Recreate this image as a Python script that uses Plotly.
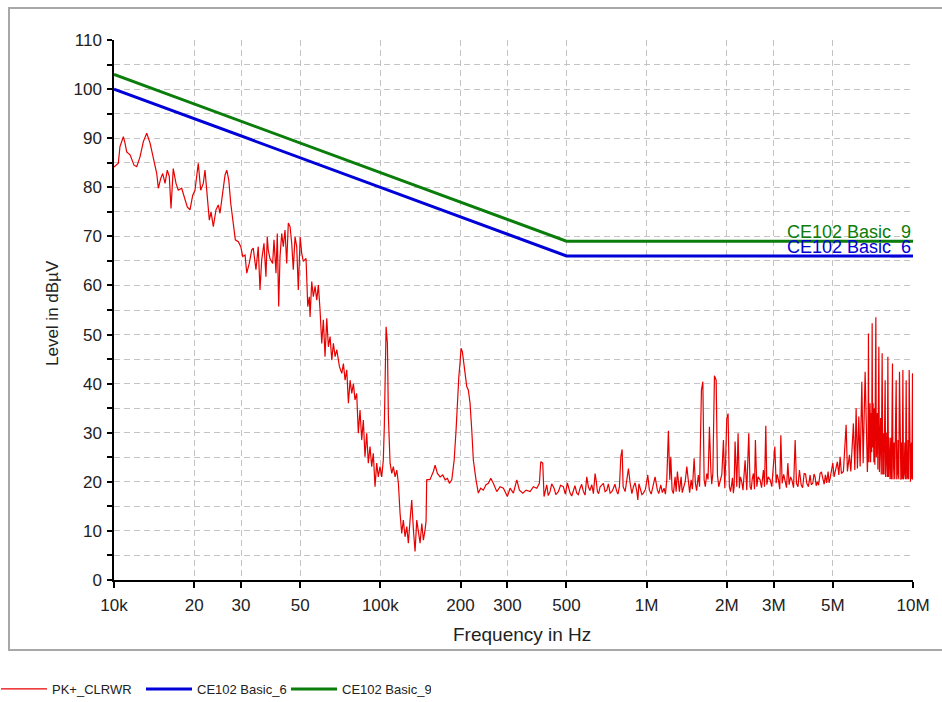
import numpy as np
import plotly.graph_objects as go

# ---------------------------------------------------------------------------
# Measured peak spectrum (frequency in kHz, level in dBµV), split by band
# ---------------------------------------------------------------------------
band_10k_40k = [
    (10.0, 84.1), (10.38, 84.9), (10.53, 88.3), (10.84, 90.3), (11.0, 89.0),
    (11.16, 87.2), (11.49, 86.6), (11.89, 84.5), (12.17, 84.2), (12.52, 86.2),
    (12.89, 89.3), (13.27, 91.0), (13.66, 89.0), (14.05, 86.2), (14.47, 82.8),
    (14.67, 79.8), (14.98, 81.8), (15.24, 82.8), (15.55, 80.8), (15.85, 83.5),
    (16.13, 82.2), (16.37, 75.7), (16.69, 83.8), (17.09, 80.8), (17.43, 79.4),
    (17.95, 79.8), (18.47, 77.7), (18.84, 76.0), (19.29, 75.4), (19.75, 78.4),
    (20.14, 79.4), (20.72, 84.9), (21.16, 79.4), (21.64, 80.8), (21.96, 83.5),
    (22.40, 78.1), (22.80, 73.3), (23.14, 75.0), (23.60, 72.0), (24.15, 75.4),
    (24.64, 76.4), (25.0, 74.7), (25.60, 79.4), (26.12, 82.5), (26.51, 83.5),
    (26.97, 81.5), (27.44, 76.7), (28.06, 72.7), (28.55, 69.3), (29.30, 68.9),
    (29.92, 67.9), (30.44, 65.9), (31.05, 66.2), (31.51, 62.5), (32.20, 64.5),
    (32.88, 67.2), (33.33, 67.6), (34.12, 63.2), (34.80, 67.9), (35.33, 59.1),
    (35.85, 65.2), (36.57, 68.6), (37.20, 61.8), (37.62, 69.9),
]

band_40k_150k = [
    (37.95, 67.2), (38.51, 65.5), (39.42, 64.5), (39.88, 69.3), (40.57, 62.5),
    (41.03, 70.6), (41.53, 55.7), (42.01, 65.9), (42.63, 70.6), (43.22, 67.9),
    (43.86, 71.3), (44.51, 64.5), (45.13, 72.7), (45.81, 72.0), (46.48, 68.6),
    (47.12, 63.2), (47.83, 69.9), (48.53, 67.9), (49.21, 59.1), (50.0, 69.9),
    (50.69, 66.5), (51.39, 64.9), (52.61, 65.5), (53.39, 55.7), (54.13, 57.7),
    (54.47, 53.6), (55.26, 60.8), (56.04, 57.7), (56.87, 59.8), (57.72, 57.0),
    (58.52, 60.1), (59.38, 55.0), (60.26, 48.2), (61.10, 53.0), (62.00, 45.5),
    (62.93, 53.3), (63.81, 47.5), (64.76, 49.6), (65.72, 44.8), (66.64, 48.2),
    (67.62, 45.5), (68.63, 46.9), (70.19, 43.5), (71.66, 42.1), (72.67, 44.1),
    (73.73, 40.7), (74.82, 42.8), (75.87, 36.0), (76.99, 40.7), (78.12, 38.0),
    (79.22, 40.0), (80.33, 36.7), (81.52, 38.0), (82.66, 29.9), (83.89, 34.6),
    (85.13, 28.5), (86.32, 32.6), (87.58, 25.1), (88.89, 29.9), (90.13, 23.8),
    (91.47, 27.2), (92.81, 23.1), (94.10, 25.8), (95.51, 19.0), (96.92, 23.8),
    (98.25, 21.0), (99.7, 23.1), (101.2, 21.0), (102.6, 24.4), (103.5, 31.2),
    (104.2, 44.8), (105.1, 51.6), (106.3, 48.2), (107.2, 33.3), (108.8, 23.8),
    (110.4, 21.7), (111.9, 23.1), (113.6, 21.0), (115.3, 22.4), (116.9, 19.7),
    (118.6, 13.6), (120.3, 9.5), (122.0, 12.2), (123.8, 8.8), (125.7, 10.9),
    (127.4, 7.5), (129.3, 12.2), (131.2, 16.3), (133.1, 10.2), (135.0, 5.8),
    (137.0, 12.2), (138.9, 9.5), (141.0, 7.5), (143.1, 11.5), (145.1, 8.1),
    (147.2, 10.2), (148.5, 12.0), (149.3, 20.4),
]

band_150k_700k = [
    (153.7, 20.5), (158.2, 22.1), (160.6, 23.4), (163.8, 21.7), (167.7, 21.0),
    (171.6, 21.4), (175.1, 20.4), (178.6, 20.7), (181.7, 19.7), (185.5, 20.4),
    (189.3, 24.4), (192.5, 30.6), (194.7, 37.0), (197.1, 41.4), (199.1, 44.1),
    (200.9, 47.2), (203.2, 46.5), (204.9, 44.8), (208.0, 41.4), (211.1, 39.4),
    (214.0, 38.7), (217.2, 36.0), (220.4, 30.6), (223.5, 24.4), (228.7, 20.4),
    (233.3, 17.7), (238.2, 18.7), (243.6, 18.3), (249.4, 19.4), (254.5, 19.7),
    (259.8, 20.7), (265.7, 19.7), (273.7, 18.0), (281.6, 19.0), (289.8, 18.7),
    (299.9, 17.0), (307.0, 18.7), (315.9, 17.7), (325.4, 20.4), (332.8, 18.3),
    (342.7, 17.7), (352.6, 18.3), (365.1, 18.0), (375.6, 19.0), (386.8, 18.7),
    (395.6, 19.7), (400.2, 24.1), (407.2, 23.8), (411.8, 17.0), (416.0, 18.2),
    (421.5, 19.4), (427.0, 17.2), (433.7, 18.0), (440.0, 19.6), (449.0, 18.7),
    (456.0, 17.4), (466.0, 18.0), (475.0, 19.3), (486.6, 19.0), (495.0, 17.5),
    (503.8, 19.8), (509.0, 18.9), (515.7, 17.7), (523.0, 17.1), (530.7, 18.3),
    (538.0, 19.2), (546.5, 17.7), (554.0, 17.4), (562.4, 18.7), (570.0, 19.5),
    (578.7, 18.0), (587.0, 17.3), (595.9, 21.0), (604.2, 19.0), (612.0, 18.2),
    (622.3, 19.4), (631.0, 17.6), (640.3, 21.7), (646.0, 20.3), (653.2, 18.0),
    (660.0, 17.6), (668.7, 19.0),
]

band_700k_3m = [
    (688.0, 19.7), (698.0, 18.0), (708.6, 18.3), (718.0, 19.6), (729.2, 17.7),
    (740.0, 18.0), (750.2, 18.7), (760.0, 19.5), (772.6, 18.0), (780.0, 17.5),
    (790.2, 19.0), (799.8, 25.1), (808.8, 26.6), (815.9, 19.0), (830.1, 18.0),
    (840.0, 19.8), (854.2, 22.7), (866.9, 19.7), (880.0, 17.6), (892.0, 19.0),
    (905.0, 19.8), (918.6, 18.0), (926.5, 16.3), (935.0, 19.6), (945.1, 18.7),
    (960.0, 17.4), (972.5, 17.7), (990.0, 18.5), (1009.6, 21.4), (1023.7, 18.3),
    (1040.0, 17.5), (1054.2, 19.0), (1075.4, 21.0), (1097.0, 18.3), (1110.0, 17.6),
    (1129.7, 19.4), (1145.0, 17.8), (1162.5, 18.7), (1176.0, 17.5), (1189.9, 20.4),
    (1206.6, 30.4), (1221.2, 20.4), (1231.8, 25.1), (1245.8, 18.3), (1260.0, 17.6),
    (1278.7, 21.0), (1290.0, 18.0), (1304.3, 22.1), (1315.0, 19.8), (1327.1, 18.0),
    (1346.8, 21.0), (1360.0, 17.8), (1374.0, 18.7), (1395.0, 20.0), (1415.0, 23.1),
    (1434.8, 19.0), (1450.0, 17.8), (1468.5, 20.4), (1485.0, 18.5), (1507.2, 24.8),
    (1524.0, 19.7), (1540.0, 18.2), (1563.0, 21.4), (1580.0, 19.0), (1605.7, 38.7),
    (1625.2, 40.4), (1643.6, 20.4), (1660.0, 19.0), (1682.4, 21.7), (1700.0, 20.5),
    (1720.7, 31.2), (1741.5, 22.4), (1755.0, 19.5), (1772.1, 21.7), (1796.8, 41.6),
    (1823.6, 40.7), (1844.2, 21.4), (1865.0, 19.0), (1887.5, 20.4), (1915.0, 21.5),
    (1942.1, 28.5), (1965.6, 18.7), (1998.8, 32.9), (2021.4, 33.9), (2044.2, 19.0),
    (2065.0, 18.0), (2087.1, 19.7), (2100.0, 20.8), (2116.2, 17.7), (2130.0, 19.0),
    (2147.5, 28.2), (2179.4, 19.0), (2204.0, 29.9), (2229.1, 18.7), (2250.0, 21.0),
    (2275.9, 20.0), (2300.0, 18.3), (2341.7, 24.4), (2376.2, 18.3), (2417.5, 29.9),
    (2445.0, 19.0), (2470.0, 18.4), (2490.0, 20.5), (2516.3, 21.7), (2540.0, 18.5),
    (2560.1, 28.5), (2591.5, 19.0), (2620.0, 21.0), (2666.4, 20.4), (2700.0, 18.8),
    (2743.7, 22.4), (2770.0, 19.0), (2801.3, 31.4), (2825.9, 19.4), (2860.0, 21.0),
    (2907.8, 20.4),
]

band_3m_10m = [
    (2950.5, 19.0), (3028.4, 27.2), (3062.8, 19.7), (3090.0, 21.5), (3124.2, 20.4),
    (3160.0, 18.5), (3189.8, 29.5), (3225.9, 19.7), (3270.0, 21.5), (3310.9, 20.0),
    (3350.0, 18.8), (3389.0, 23.8), (3427.3, 19.4), (3470.0, 21.0), (3508.3, 20.4),
    (3560.0, 18.8), (3610.4, 28.5), (3651.2, 19.7), (3700.0, 19.0), (3746.4, 22.4),
    (3802.3, 19.4), (3850.0, 18.8), (3902.3, 21.7), (3950.0, 21.6), (3991.5, 19.7),
    (4050.0, 19.0), (4107.3, 21.4), (4150.0, 19.4), (4204.4, 19.7), (4250.0, 21.6),
    (4288.8, 21.0), (4330.0, 19.2), (4374.4, 20.0), (4420.0, 19.3), (4478.7, 21.7),
    (4530.0, 22.0), (4584.6, 20.4), (4640.0, 19.5), (4688.2, 21.4), (4740.0, 19.8),
    (4799.2, 22.1), (4840.0, 19.8), (4882.8, 20.7), (4940.0, 22.5), (4998.8, 23.8),
    (5055.5, 21.0), (5201.9, 24.1), (5265.5, 21.4), (5325.1, 25.1), (5385.3, 21.7),
    (5479.0, 22.1), (5608.8, 31.6), (5671.9, 22.1), (5771.7, 25.5), (5841.4, 22.1),
    (5973.7, 31.9), (6047.3, 22.4), (6115.5, 35.0), (6184.7, 22.7), (6259.4, 33.3),
    (6331.5, 23.1), (6425.0, 40.4), (6498.2, 23.8), (6611.2, 42.4), (6686.3, 25.1),
    (6740.0, 22.0), (6780.0, 27.0), (6803.0, 50.2), (6830.0, 24.0), (6862.3, 29.9),
    (6900.0, 36.0), (6930.0, 24.0), (6970.0, 34.0), (7000.0, 26.0), (7024.5, 52.3),
    (7050.0, 27.0), (7080.0, 36.0), (7103.9, 31.9), (7130.0, 24.0), (7160.0, 35.0),
    (7190.0, 23.5), (7220.0, 33.0), (7252.9, 53.5), (7280.0, 25.0), (7317.3, 27.2),
    (7350.0, 34.0), (7380.0, 22.5), (7410.0, 33.0), (7443.8, 47.5), (7480.0, 22.0),
    (7527.4, 28.5), (7560.0, 33.0), (7600.0, 21.5), (7630.0, 31.0), (7658.0, 46.2),
    (7700.0, 21.5), (7745.1, 29.9), (7780.0, 21.5), (7820.0, 30.0), (7860.6, 40.7),
    (7890.0, 21.0), (7929.5, 25.1), (7970.0, 30.0), (8010.0, 21.0), (8047.4, 45.5),
    (8090.0, 21.0), (8120.0, 29.0), (8159.4, 25.8), (8200.0, 20.5), (8250.0, 29.0),
    (8300.0, 20.5), (8340.0, 28.0), (8373.9, 44.1), (8410.0, 20.5), (8446.9, 23.1),
    (8490.0, 28.0), (8540.0, 20.5), (8600.0, 28.0), (8646.3, 40.7), (8690.0, 20.5),
    (8743.2, 21.7), (8790.0, 28.5), (8840.0, 20.5), (8897.3, 42.4), (8950.0, 20.5),
    (9005.3, 20.4), (9060.0, 28.0), (9110.0, 20.5), (9163.4, 42.8), (9210.0, 20.5),
    (9265.9, 21.7), (9320.0, 28.0), (9370.0, 20.5), (9426.4, 40.7), (9480.0, 20.5),
    (9534.4, 21.0), (9580.0, 28.5), (9630.0, 20.5), (9675.0, 42.8), (9730.0, 20.5),
    (9784.6, 20.0), (9850.0, 28.0), (9900.0, 20.5), (9956.3, 42.1), (10000.0, 20.4),
]

# CE102 limit lines (frequency in Hz, level in dBµV)
limit_freq_hz = [10e3, 500e3, 10e6]
limit_basic_6 = [100, 66, 66]
limit_basic_9 = [103, 69, 69]

# Frequency axis ticks
x_tick_hz = [10e3, 20e3, 30e3, 50e3, 100e3, 200e3, 300e3, 500e3,
             1e6, 2e6, 3e6, 5e6, 10e6]
x_tick_text = ["10k", "20", "30", "50", "100k", "200", "300", "500",
               "1M", "2M", "3M", "5M", "10M"]

# ---------------------------------------------------------------------------
spectrum = np.array(band_10k_40k + band_40k_150k + band_150k_700k
                    + band_700k_3m + band_3m_10m)
order = np.argsort(spectrum[:, 0], kind="stable")
freq_hz = spectrum[order, 0] * 1e3
level_dbuv = spectrum[order, 1]

FONT = "Liberation Sans, Arial, sans-serif"
GRID = "#c4c4c4"
BLUE = "#0000d8"
GREEN = "#0a7d0a"
RED = "#e80000"

# plot-area geometry in pixels
L, R, T, B = 114, 913, 40, 580
PW, PH = R - L, B - T


def px_x(px):
    return (px - L) / PW


def px_y(py):
    return (B - py) / PH


fig = go.Figure()
fig.add_trace(go.Scatter(
    x=freq_hz, y=level_dbuv, mode="lines", name="PK+_CLRWR",
    line=dict(color=RED, width=1.2),
))
fig.add_trace(go.Scatter(
    x=limit_freq_hz, y=limit_basic_6, mode="lines", name="CE102 Basic_6",
    line=dict(color=BLUE, width=3),
))
fig.add_trace(go.Scatter(
    x=limit_freq_hz, y=limit_basic_9, mode="lines", name="CE102 Basic_9",
    line=dict(color=GREEN, width=3),
))

# Limit-line labels at the right end of each line
for name, levels, color in (("CE102 Basic_9", limit_basic_9, GREEN),
                            ("CE102 Basic_6", limit_basic_6, BLUE)):
    fig.add_annotation(
        x=np.log10(limit_freq_hz[-1]), y=levels[-1], xref="x", yref="y",
        text=name, showarrow=False, xanchor="right", yanchor="bottom",
        yshift=-4, font=dict(family=FONT, size=18, color=color),
    )

# Axis titles
fig.add_annotation(
    x=px_x(522), y=px_y(634), xref="paper", yref="paper",
    text="Frequency in Hz", showarrow=False, xanchor="center", yanchor="middle",
    font=dict(family=FONT, size=19, color="#222222"),
)
fig.add_annotation(
    x=px_x(52), y=px_y(313), xref="paper", yref="paper",
    text="Level in dBµV", showarrow=False, textangle=-90,
    xanchor="center", yanchor="middle",
    font=dict(family=FONT, size=17, color="#222222"),
)

# Grey panel frame around the chart
fig.add_shape(
    type="rect", xref="paper", yref="paper",
    x0=px_x(9), x1=px_x(950), y0=px_y(650), y1=px_y(8),
    line=dict(color="#a8a8a8", width=2), fillcolor="rgba(0,0,0,0)",
    layer="below",
)

axis_common = dict(
    showline=True, linecolor="black", linewidth=1.5,
    ticks="outside", tickcolor="black", tickwidth=1.5,
    showgrid=True, gridcolor=GRID, gridwidth=1, griddash="6px,4px",
    zeroline=False, mirror=False,
    tickfont=dict(family=FONT, size=17, color="#222222"),
)

fig.update_xaxes(
    type="log", range=[4, 7],
    tickmode="array", tickvals=x_tick_hz, ticktext=x_tick_text,
    ticklen=6, ticklabelstandoff=3, **axis_common,
)
fig.update_yaxes(
    range=[0, 110], tick0=0, dtick=10, ticklen=5, ticklabelstandoff=2,
    minor=dict(dtick=5, ticks="outside", ticklen=5, tickcolor="black",
               tickwidth=1.5, showgrid=True, gridcolor=GRID,
               griddash="6px,4px", gridwidth=1),
    **axis_common,
)

fig.update_layout(
    width=942, height=702, autosize=False,
    margin=dict(l=L, r=942 - R, t=T, b=702 - B, autoexpand=False),
    paper_bgcolor="white", plot_bgcolor="white",
    font=dict(family=FONT, color="#222222"),
    showlegend=True,
    legend=dict(
        orientation="h", x=px_x(-4), xanchor="left",
        y=px_y(689), yanchor="middle",
        entrywidth=84, entrywidthmode="pixels",
        itemwidth=46,
        font=dict(family="Liberation Sans Narrow, " + FONT, size=13,
                  color="#222222"),
        bgcolor="rgba(0,0,0,0)",
    ),
)

fig.write_html("out.html")
